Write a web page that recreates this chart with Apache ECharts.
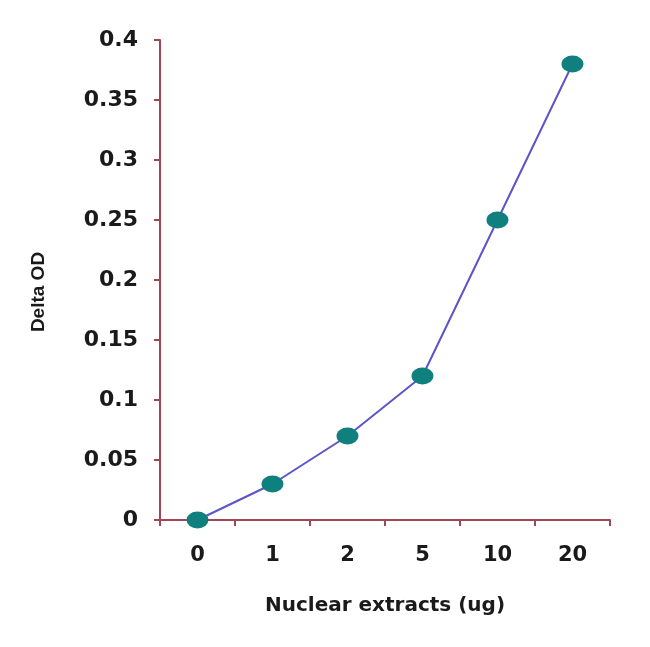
<!DOCTYPE html>
<html>
<head>
<meta charset="utf-8">
<script src="https://cdn.jsdelivr.net/npm/echarts@6/dist/echarts.min.js"></script>
<style>html,body{margin:0;padding:0;background:#fff}#c{width:650px;height:647px}</style>
</head>
<body>
<div id="c"></div>
<script>
const categories = ['0', '1', '2', '5', '10', '20'];
const deltaOD = [0, 0.03, 0.07, 0.12, 0.25, 0.38];
const yTicks = { min: 0, max: 0.4, interval: 0.05 };

const axisColor = '#a04654';
const font = 'DejaVu Sans';
const chart = echarts.init(document.getElementById('c'));
chart.setOption({
  animation: false,
  backgroundColor: '#fff',
  grid: { left: 160, right: 40, top: 40, bottom: 127 },
  xAxis: {
    type: 'category',
    data: categories,
    boundaryGap: true,
    name: 'Nuclear extracts (ug)',
    nameLocation: 'middle',
    nameGap: 76,
    nameTextStyle: { fontFamily: font, fontWeight: 'bold', fontSize: 20, color: '#1a1a1a' },
    axisLine: { lineStyle: { color: axisColor, width: 2 } },
    axisTick: { show: true, length: 6, lineStyle: { color: axisColor, width: 2 } },
    axisLabel: { fontFamily: font, fontWeight: 'bold', fontSize: 21, color: '#1a1a1a', margin: 25 },
    splitLine: { show: false }
  },
  yAxis: {
    type: 'value',
    min: yTicks.min,
    max: yTicks.max,
    interval: yTicks.interval,
    name: 'Delta OD',
    nameLocation: 'middle',
    nameGap: 112,
    nameTextStyle: { fontFamily: 'Liberation Sans', fontWeight: 'bold', fontSize: 19, color: '#1a1a1a', padding: [0, 24, 0, 0] },
    axisLine: { show: true, lineStyle: { color: axisColor, width: 2 } },
    axisTick: { show: true, length: 6, lineStyle: { color: axisColor, width: 2 } },
    axisLabel: { fontFamily: font, fontWeight: 'bold', fontSize: 22, color: '#1a1a1a', margin: 22 },
    splitLine: { show: false }
  },
  series: [{
    type: 'line',
    data: deltaOD,
    symbol: 'circle',
    symbolSize: [22, 17],
    lineStyle: { color: '#5a55c8', width: 2 },
    itemStyle: { color: '#10807e' }
  }]
});
</script>
</body>
</html>
